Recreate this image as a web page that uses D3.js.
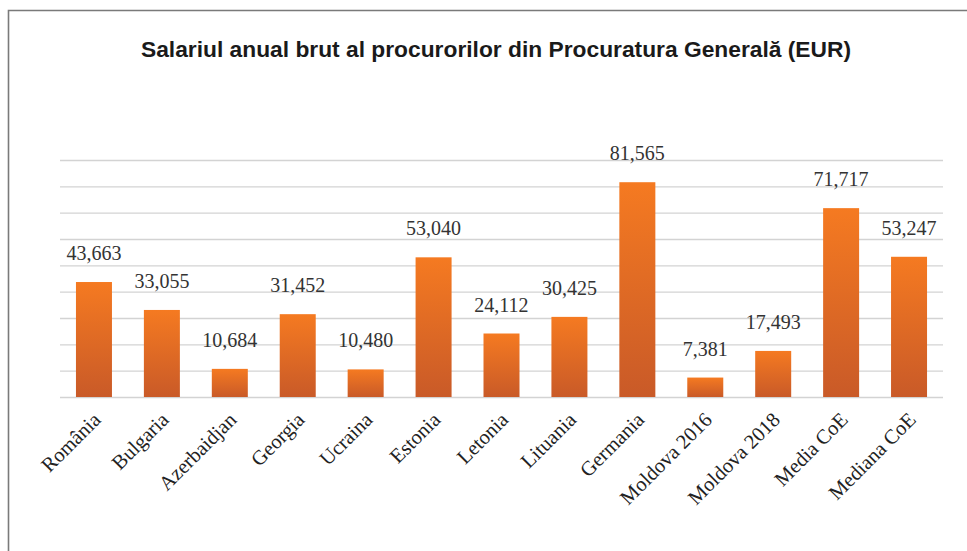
<!DOCTYPE html>
<html>
<head>
<meta charset="utf-8">
<script src="https://cdn.jsdelivr.net/npm/d3@7"></script>
<style>
  html, body { margin: 0; padding: 0; background: #fff; }
  .grid line { stroke: #d3d3d3; stroke-width: 1.3; }
  .grid path { display: none; }
</style>
</head>
<body>
<div class="chart"></div>
<script>
const categories = ['România', 'Bulgaria', 'Azerbaidjan', 'Georgia', 'Ucraina', 'Estonia', 'Letonia',
  'Lituania', 'Germania', 'Moldova 2016', 'Moldova 2018', 'Media CoE', 'Mediana CoE'];
const salaries = [43663, 33055, 10684, 31452, 10480, 53040, 24112, 30425, 81565, 7381, 17493, 71717, 53247];
const gridTicks = [0, 10000, 20000, 30000, 40000, 50000, 60000, 70000, 80000, 90000];
const title = 'Salariul anual brut al procurorilor din Procuratura Generală (EUR)';

const W = 967, H = 551;
const margin = { top: 160, right: 24, bottom: 154, left: 60 };
const width = W - margin.left - margin.right;
const height = H - margin.top - margin.bottom;

const svg = d3.select('.chart')
  .append('svg')
    .attr('width', W)
    .attr('height', H);

// gradient for bars
const grad = svg.append('defs').append('linearGradient')
  .attr('id', 'barGrad')
  .attr('x1', 0).attr('y1', 0).attr('x2', 0).attr('y2', 1);
grad.append('stop').attr('offset', '0%').attr('stop-color', '#f57a21');
grad.append('stop').attr('offset', '100%').attr('stop-color', '#c95a28');

// outer frame (runs off the right and bottom edge)
svg.append('path')
  .attr('d', `M8.5,${H + 5} V10.5 H${W + 5}`)
  .attr('fill', 'none')
  .attr('stroke', '#7a7a7a')
  .attr('stroke-width', 1.6);

svg.append('text')
  .attr('x', 496)
  .attr('y', 57)
  .attr('text-anchor', 'middle')
  .attr('font-family', '"Liberation Sans", Arial, sans-serif')
  .attr('font-weight', 'bold')
  .attr('font-size', 22.5)
  .attr('fill', '#1a1a1a')
  .attr('textLength', 710)
  .attr('lengthAdjust', 'spacingAndGlyphs')
  .text(title);

const g = svg.append('g')
  .attr('transform', `translate(${margin.left}, ${margin.top})`);

const yScale = d3.scaleLinear()
  .domain([0, 90000])
  .range([height, 0]);

const xScale = d3.scaleBand()
  .domain(categories)
  .range([0, width])
  .paddingInner(0.47)
  .paddingOuter(0.235);

g.append('g')
  .attr('class', 'grid')
  .call(d3.axisLeft(yScale).tickValues(gridTicks).tickSize(-width).tickFormat(''));

g.selectAll('rect.bar')
  .data(salaries)
  .enter()
  .append('rect')
    .attr('class', 'bar')
    .attr('x', (d, i) => xScale(categories[i]))
    .attr('y', d => yScale(d))
    .attr('width', xScale.bandwidth())
    .attr('height', d => height - yScale(d))
    .attr('fill', 'url(#barGrad)');

const fmt = d3.format(',');
g.selectAll('text.val')
  .data(salaries)
  .enter()
  .append('text')
    .attr('class', 'val')
    .attr('x', (d, i) => xScale(categories[i]) + xScale.bandwidth() / 2)
    .attr('y', d => yScale(d) - 22)
    .attr('text-anchor', 'middle')
    .attr('font-family', '"Liberation Serif", "Times New Roman", serif')
    .attr('font-size', 20)
    .attr('fill', '#333')
    .text(d => fmt(d));

// category labels, rotated
const xAxis = d3.axisBottom(xScale).tickSize(0).tickPadding(0);
const xg = g.append('g')
  .attr('transform', `translate(0, ${height})`)
  .call(xAxis);
xg.select('.domain').remove();
xg.selectAll('text')
  .attr('font-family', '"Liberation Serif", "Times New Roman", serif')
  .attr('font-size', 20.5)
  .attr('fill', '#222')
  .attr('dy', 0)
  .attr('y', 0)
  .style('text-anchor', 'end')
  .attr('transform', 'translate(8, 24) rotate(-45)');
</script>
</body>
</html>
